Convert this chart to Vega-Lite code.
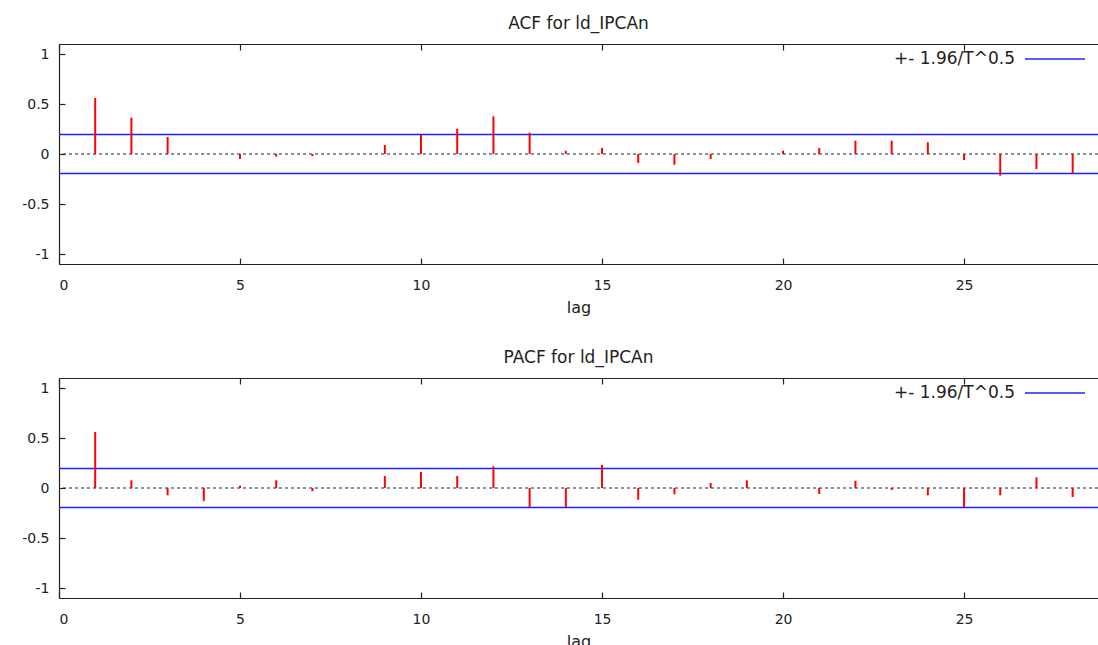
{
  "$schema": "https://vega.github.io/schema/vega-lite/v6.json",
  "background": "white",
  "padding": {"left": 5, "right": 0, "top": 15, "bottom": 0},
  "config": {
    "font": "DejaVu Sans",
    "view": {"stroke": null},
    "concat": {"spacing": 34},
    "axis": {
      "domainColor": "#222", "tickColor": "#222", "labelColor": "#222",
      "labelFont": "DejaVu Sans", "labelFontSize": 14, "grid": false,
      "tickSize": -6, "domainWidth": 1.2, "tickWidth": 1.2,
      "titleFont": "DejaVu Sans", "titleFontSize": 16, "titleFontWeight": "normal", "titleColor": "#222"
    },
    "title": {"font": "DejaVu Sans", "fontSize": 17, "fontWeight": "normal", "color": "#222", "offset": -5}
  },
  "datasets": {
    "acf": [
      {"lag": 1, "value": 0.56}, {"lag": 2, "value": 0.363}, {"lag": 3, "value": 0.17},
      {"lag": 4, "value": 0.004}, {"lag": 5, "value": -0.05}, {"lag": 6, "value": -0.027},
      {"lag": 7, "value": -0.022}, {"lag": 8, "value": 0.005}, {"lag": 9, "value": 0.09},
      {"lag": 10, "value": 0.19}, {"lag": 11, "value": 0.253}, {"lag": 12, "value": 0.377},
      {"lag": 13, "value": 0.213}, {"lag": 14, "value": 0.033}, {"lag": 15, "value": 0.06},
      {"lag": 16, "value": -0.09}, {"lag": 17, "value": -0.107}, {"lag": 18, "value": -0.05},
      {"lag": 19, "value": 0.005}, {"lag": 20, "value": 0.033}, {"lag": 21, "value": 0.06},
      {"lag": 22, "value": 0.133}, {"lag": 23, "value": 0.133}, {"lag": 24, "value": 0.117},
      {"lag": 25, "value": -0.06}, {"lag": 26, "value": -0.217}, {"lag": 27, "value": -0.15},
      {"lag": 28, "value": -0.193}
    ],
    "pacf": [
      {"lag": 1, "value": 0.56}, {"lag": 2, "value": 0.077}, {"lag": 3, "value": -0.073},
      {"lag": 4, "value": -0.13}, {"lag": 5, "value": 0.023}, {"lag": 6, "value": 0.077},
      {"lag": 7, "value": -0.033}, {"lag": 8, "value": 0.003}, {"lag": 9, "value": 0.12},
      {"lag": 10, "value": 0.16}, {"lag": 11, "value": 0.12}, {"lag": 12, "value": 0.217},
      {"lag": 13, "value": -0.193}, {"lag": 14, "value": -0.193}, {"lag": 15, "value": 0.23},
      {"lag": 16, "value": -0.117}, {"lag": 17, "value": -0.063}, {"lag": 18, "value": 0.05},
      {"lag": 19, "value": 0.077}, {"lag": 20, "value": -0.003}, {"lag": 21, "value": -0.06},
      {"lag": 22, "value": 0.073}, {"lag": 23, "value": -0.02}, {"lag": 24, "value": -0.073},
      {"lag": 25, "value": -0.193}, {"lag": 26, "value": -0.073}, {"lag": 27, "value": 0.107},
      {"lag": 28, "value": -0.09}
    ],
    "bands": [{"band": 0.195}, {"band": -0.195}],
    "zero": [{"z": 0}]
  },
  "resolve": {"scale": {"color": "independent"}},
  "vconcat": [
    {
      "width": 1039, "height": 220,
      "title": {"text": "ACF for ld_IPCAn"},
      "resolve": {"axis": {"x": "independent"}},
      "layer": [
        {
          "data": {"name": "bands"},
          "mark": {"type": "rule", "strokeWidth": 1.5},
          "encoding": {
            "y": {"field": "band", "type": "quantitative",
                  "scale": {"domain": [-1.1, 1.1], "nice": false, "zero": false},
                  "axis": {"values": [-1, -0.5, 0, 0.5, 1], "labelExpr": "'' + datum.value", "labelPadding": 16, "labelDy": 3, "title": null, "minExtent": 54, "maxExtent": 54}},
            "color": {"datum": "+- 1.96/T^0.5", "type": "nominal",
                      "scale": {"range": ["#2020ff"]},
                      "legend": {"orient": "none", "legendX": 965, "legendY": -16, "title": null, "symbolType": "stroke", "symbolSize": 3600, "symbolStrokeWidth": 1.5, "labelFontSize": 17, "labelFont": "DejaVu Sans", "labelColor": "#222", "labelAlign": "right", "labelOffset": -71, "padding": 0, "symbolOffset": 0}}
          }
        },
        {
          "data": {"name": "zero"},
          "mark": {"type": "rule", "strokeDash": [3, 3], "color": "#222", "strokeWidth": 1},
          "encoding": {"y": {"field": "z", "type": "quantitative"}}
        },
        {
          "data": {"name": "acf"},
          "mark": {"type": "rule", "color": "#ff0000", "strokeWidth": 2},
          "encoding": {
            "x": {"field": "lag", "type": "quantitative",
                  "scale": {"domain": [0, 28.7], "nice": false, "zero": false},
                  "axis": {"values": [0, 5, 10, 15, 20, 25], "labelPadding": 20, "labelDx": 4, "title": "lag", "titlePadding": 7}},
            "y": {"field": "value", "type": "quantitative"},
            "y2": {"datum": 0}
          }
        },
        {
          "data": {"name": "acf"},
          "mark": {"type": "rule", "opacity": 0},
          "encoding": {
            "x": {"field": "lag", "type": "quantitative",
                  "scale": {"domain": [0, 28.7], "nice": false, "zero": false},
                  "axis": {"orient": "top", "values": [0, 5, 10, 15, 20, 25], "labels": false, "title": null}}
          }
        }
      ]
    },
    {
      "width": 1039, "height": 220,
      "title": {"text": "PACF for ld_IPCAn"},
      "resolve": {"axis": {"x": "independent"}},
      "layer": [
        {
          "data": {"name": "bands"},
          "mark": {"type": "rule", "strokeWidth": 1.5},
          "encoding": {
            "y": {"field": "band", "type": "quantitative",
                  "scale": {"domain": [-1.1, 1.1], "nice": false, "zero": false},
                  "axis": {"values": [-1, -0.5, 0, 0.5, 1], "labelExpr": "'' + datum.value", "labelPadding": 16, "labelDy": 3, "title": null, "minExtent": 54, "maxExtent": 54}},
            "color": {"datum": "+- 1.96/T^0.5", "type": "nominal",
                      "scale": {"range": ["#2020ff"]},
                      "legend": {"orient": "none", "legendX": 965, "legendY": -16, "title": null, "symbolType": "stroke", "symbolSize": 3600, "symbolStrokeWidth": 1.5, "labelFontSize": 17, "labelFont": "DejaVu Sans", "labelColor": "#222", "labelAlign": "right", "labelOffset": -71, "padding": 0, "symbolOffset": 0}}
          }
        },
        {
          "data": {"name": "zero"},
          "mark": {"type": "rule", "strokeDash": [3, 3], "color": "#222", "strokeWidth": 1},
          "encoding": {"y": {"field": "z", "type": "quantitative"}}
        },
        {
          "data": {"name": "pacf"},
          "mark": {"type": "rule", "color": "#ff0000", "strokeWidth": 2},
          "encoding": {
            "x": {"field": "lag", "type": "quantitative",
                  "scale": {"domain": [0, 28.7], "nice": false, "zero": false},
                  "axis": {"values": [0, 5, 10, 15, 20, 25], "labelPadding": 20, "labelDx": 4, "title": "lag", "titlePadding": 7}},
            "y": {"field": "value", "type": "quantitative"},
            "y2": {"datum": 0}
          }
        },
        {
          "data": {"name": "pacf"},
          "mark": {"type": "rule", "opacity": 0},
          "encoding": {
            "x": {"field": "lag", "type": "quantitative",
                  "scale": {"domain": [0, 28.7], "nice": false, "zero": false},
                  "axis": {"orient": "top", "values": [0, 5, 10, 15, 20, 25], "labels": false, "title": null}}
          }
        }
      ]
    }
  ]
}
